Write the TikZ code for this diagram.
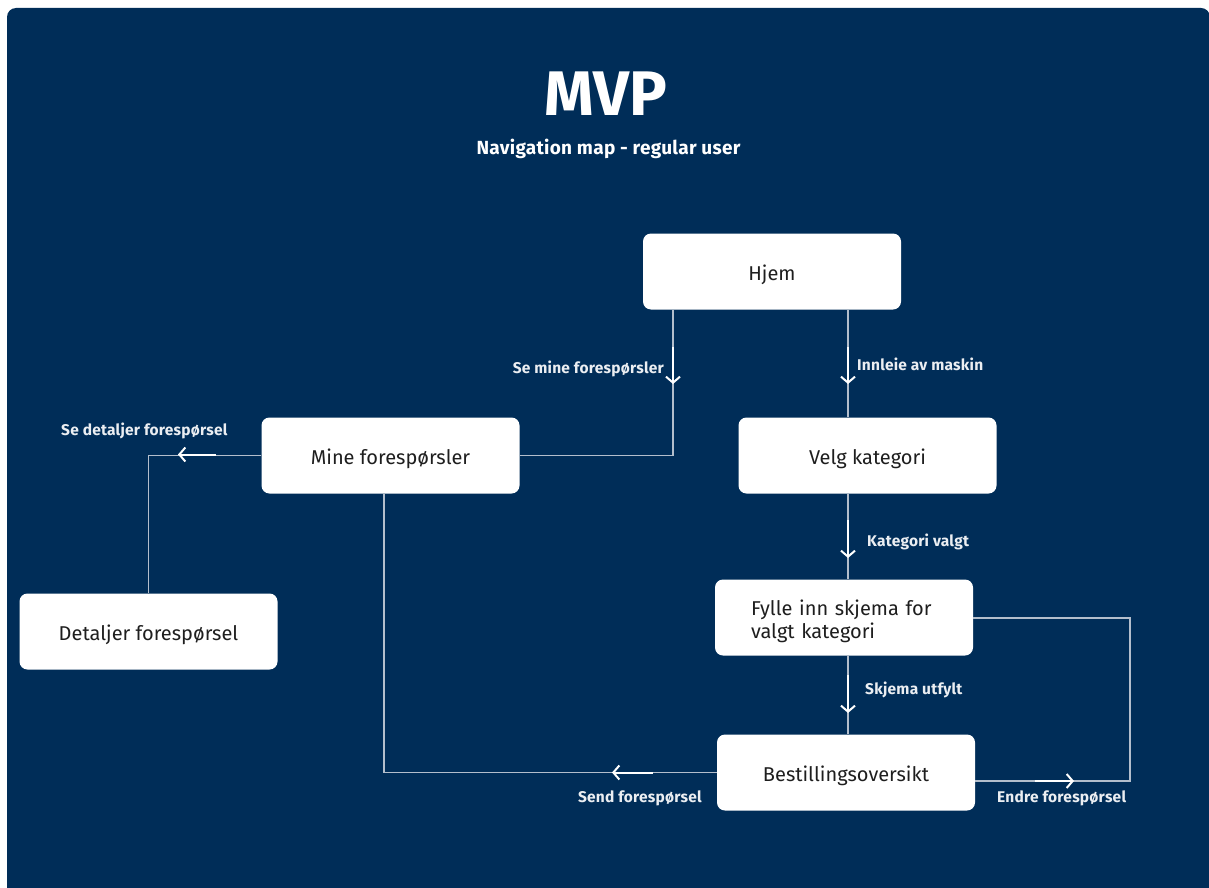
\documentclass[tikz,border=0pt]{standalone}
\usepackage{fontspec}
\setmainfont{Fira Sans}
\usetikzlibrary{arrows.meta}
\definecolor{navy}{HTML}{002D58}
\definecolor{wire}{HTML}{B3BECC}
\definecolor{ink}{HTML}{1E1E1E}
\tikzset{
  screen/.style={draw=none, fill=white, rounded corners=8pt, minimum width=258pt,
    minimum height=76pt, text=ink, font=\fontsize{20}{23}\selectfont, inner sep=0pt},
  oneline/.style={text height=17pt, text depth=0pt},
  wire/.style={draw=wire, line width=1.4pt},
  flow/.style={draw=white, line width=2pt,
    -{Straight Barb[length=6pt,width=14pt,line width=2pt]}},
  tag/.style={text=white!92!navy, font=\fontsize{15.5}{18}\selectfont\bfseries\addfontfeature{LetterSpace=1.5}, inner sep=0pt}
}
\begin{document}
\begin{tikzpicture}[x=1pt,y=-1pt]
\useasboundingbox (0,0) rectangle (1209,888);
\fill[white] (0,0) rectangle (1209,888);
\fill[navy, rounded corners=9pt] (7,8) rectangle (1210,910);

% heading
\node[anchor=base, text=white, font=\fontsize{63}{70}\selectfont\bfseries, inner sep=0pt] (title) at (606,116) {MVP};
\node[anchor=base, text=white, font=\fontsize{19}{22}\selectfont\bfseries\addfontfeature{LetterSpace=1.5}, inner sep=0pt] (subtitle) at (608.5,154) {Navigation map - regular user};

% screens
\node[screen, oneline] (hjem) at (772,271.5) {Hjem};
\node[screen, oneline] (mine) at (390.5,455.5) {Mine forespørsler};
\node[screen, oneline] (velg) at (867.5,455.5) {Velg kategori};
\node[screen, align=left, text width=186pt, inner xsep=36pt, text depth=20pt] (fylle) at (844,617.5) {Fylle inn skjema for\\valgt kategori};
\node[screen, oneline] (best) at (846,772.5) {Bestillingsoversikt};
\node[screen, oneline] (det) at (148.5,631.5) {Detaljer forespørsel};

% connectors
\coordinate (loopA) at (1130,781);
\coordinate (loopB) at (1130,618);
\draw[wire] (hjem.south -| 673,0) |- (mine.east);
\draw[wire] (hjem.south -| 848,0) -- (velg.north -| 848,0);
\draw[wire] (mine.west) -| (det.north);
\draw[wire] (velg.south -| 848,0) -- (fylle.north -| 848,0);
\draw[wire] (fylle.south -| 848,0) -- (best.north -| 848,0);
\draw[wire] (best.west) -| (mine.south -| 384,0);
\draw[wire] (best.east |- loopA) -- (loopA) -- (loopB) -- (fylle.east |- loopB);

% direction markers
\coordinate (a1s) at (673,347); \coordinate (a1e) at (673,384);
\coordinate (a2s) at (848,347); \coordinate (a2e) at (848,384);
\coordinate (a3s) at (216,454.5); \coordinate (a3e) at (178,454.5);
\coordinate (a4s) at (848,520); \coordinate (a4e) at (848,558);
\coordinate (a5s) at (848,675); \coordinate (a5e) at (848,713);
\coordinate (a6s) at (653,772.5); \coordinate (a6e) at (612,772.5);
\coordinate (a7s) at (1035,781); \coordinate (a7e) at (1074,781);
\draw[flow] (a1s) -- (a1e);
\draw[flow] (a2s) -- (a2e);
\draw[flow] (a3s) -- (a3e);
\draw[flow] (a4s) -- (a4e);
\draw[flow] (a5s) -- (a5e);
\draw[flow] (a6s) -- (a6e);
\draw[flow] (a7s) -- (a7e);

% labels
\node[tag, anchor=base east] (l1) at (664,373) {Se mine forespørsler};
\node[tag, anchor=base west] (l2) at (857,370) {Innleie av maskin};
\node[tag, anchor=base west] (l3) at (61,435) {Se detaljer forespørsel};
\node[tag, anchor=base west] (l4) at (867,546) {Kategori valgt};
\node[tag, anchor=base west] (l5) at (865,694) {Skjema utfylt};
\node[tag, anchor=base east] (l6) at (702,802) {Send forespørsel};
\node[tag, anchor=base west] (l7) at (997,802) {Endre forespørsel};
\end{tikzpicture}
\end{document}
